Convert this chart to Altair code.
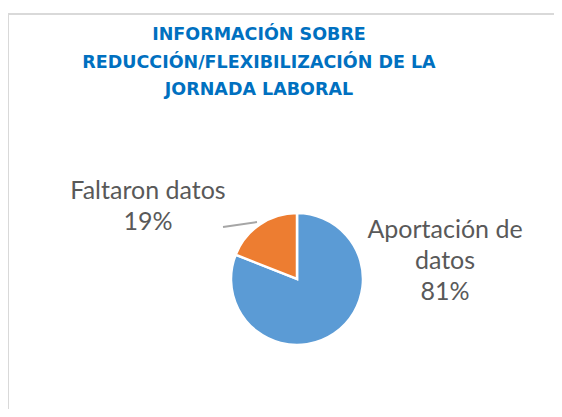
import textwrap
import altair as alt
import pandas as pd

# ---- data ----
categories = ["Aportación de datos", "Faltaron datos"]
values = [81, 19]
colors = ["#5B9BD5", "#ED7D31"]
title_lines = ["INFORMACIÓN SOBRE", "REDUCCIÓN/FLEXIBILIZACIÓN DE LA", "JORNADA LABORAL"]

# ---- layout (pixels in chart space) ----
W, H = 546, 401
CX, CY, R = 289, 271, 66
label_x = [437, 140]
label_y = [230, 191]

df = pd.DataFrame({"cat": categories, "val": values, "order": list(range(len(categories)))})
df["label"] = ["\n".join(textwrap.wrap(c, 14) + [f"{v}%"]) for c, v in zip(categories, values)]

base = alt.Chart(df)

pie = base.mark_arc(outerRadius=R, stroke="white", strokeWidth=2.5).encode(
    theta=alt.Theta("val:Q", stack=True),
    color=alt.Color("cat:N", scale=alt.Scale(domain=categories, range=colors), legend=None),
    order=alt.Order("order:Q"),
    x=alt.value(CX),
    y=alt.value(CY),
)

labels = base.mark_text(
    font="Lato", fontSize=25, color="#595959", align="center", baseline="alphabetic",
    lineBreak="\n", lineHeight=31,
).encode(
    text="label:N",
    x=alt.X("cat:N", scale=alt.Scale(type="point", domain=categories, range=label_x, padding=0), axis=None),
    y=alt.Y("cat:N", scale=alt.Scale(type="point", domain=categories, range=label_y, padding=0), axis=None),
)

leader = base.mark_rule(color="#A6A6A6", strokeWidth=2).encode(
    x=alt.value(215), y=alt.value(219), x2=alt.value(249), y2=alt.value(214)
).transform_filter(alt.datum.cat == categories[1])

title = base.mark_text(
    font="DejaVu Sans", fontWeight="bold", fontSize=17.5, color="#0070C0", align="center",
    baseline="alphabetic", lineBreak="\n", lineHeight=27.5,
).encode(
    text=alt.value("\n".join(title_lines)), x=alt.value(251), y=alt.value(32)
).transform_filter(alt.datum.order == 0)

border_top = base.mark_rule(color="#D9D9D9", strokeWidth=2).encode(
    x=alt.value(0), x2=alt.value(W), y=alt.value(6)
).transform_filter(alt.datum.order == 0)
border_left = base.mark_rule(color="#D9D9D9", strokeWidth=2).encode(
    x=alt.value(0), y=alt.value(5), y2=alt.value(H)
).transform_filter(alt.datum.order == 0)

chart = alt.layer(border_top, border_left, title, pie, leader, labels).properties(
    width=W, height=H, autosize=alt.AutoSizeParams(type="none"), padding=0
).configure_view(stroke=None)

chart.save("out.html", embed_options={"renderer": "svg", "actions": False})
